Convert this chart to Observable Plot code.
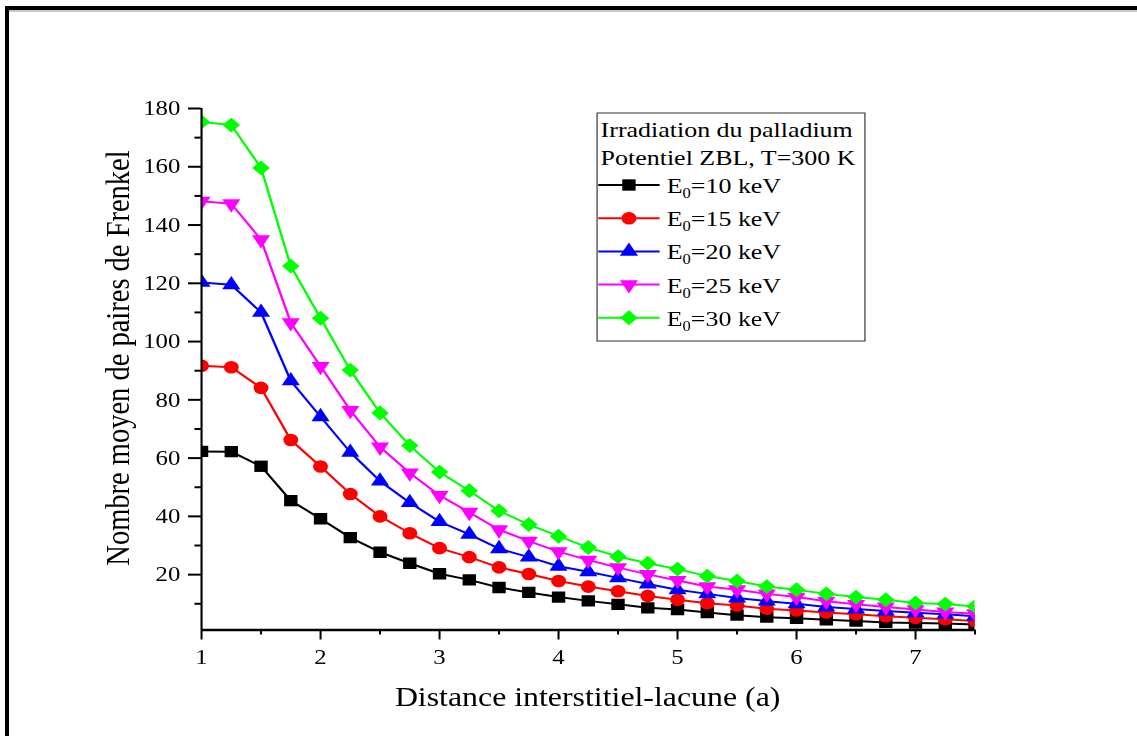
<!DOCTYPE html>
<html>
<head>
<meta charset="utf-8">
<script src="https://cdn.jsdelivr.net/npm/d3@7"></script>
<script src="https://cdn.jsdelivr.net/npm/@observablehq/plot@0.6"></script>
<style>
  html, body { margin: 0; padding: 0; background: #fff; overflow: hidden; }
  #page { position: relative; width: 1137px; height: 736px; overflow: hidden; background: #fff; }
  #stretch { position: absolute; left: 0; top: 0; width: 964px; height: 736px; transform: scaleX(1.18); transform-origin: 0 0; }
  #chart { position: absolute; left: 0; top: 0; }
  #overlay { position: absolute; left: 0; top: 0; overflow: visible; pointer-events: none; }
  #frame { position: absolute; left: 5px; top: 6px; right: -30px; bottom: -30px; border-left: 4px solid #000; border-top: 4px solid #000; }
  #frameShadow { position: absolute; left: 9px; top: 10px; right: 0; height: 1.5px; background: #c8c8c8; }
</style>
</head>
<body>
<div id="page">
  <div id="stretch">
    <div id="chart"></div>
    <svg id="overlay"></svg>
  </div>
  <div id="frame"></div>
  <div id="frameShadow"></div>
</div>
<script>
// ---------- data ----------
const xValues = [1, 1.25, 1.5, 1.75, 2, 2.25, 2.5, 2.75, 3, 3.25, 3.5, 3.75, 4, 4.25, 4.5, 4.75, 5, 5.25, 5.5, 5.75, 6, 6.25, 6.5, 6.75, 7, 7.25, 7.5];
const e10 = [62.3, 62.2, 57.2, 45.4, 39.2, 32.7, 27.7, 23.9, 20.3, 18.2, 15.6, 13.9, 12.3, 11.0, 9.8, 8.6, 8.0, 7.0, 6.1, 5.4, 5.0, 4.5, 4.1, 3.6, 3.4, 3.2, 2.9];
const e15 = [91.7, 91.2, 84.1, 66.2, 57.1, 47.7, 40.0, 34.2, 29.1, 26.0, 22.5, 20.2, 17.8, 15.9, 14.3, 12.7, 11.4, 10.2, 9.4, 8.3, 7.7, 7.0, 6.4, 5.7, 5.2, 4.7, 4.1];
const e20 = [120.3, 119.5, 110.0, 86.5, 74.2, 62.0, 52.1, 44.7, 38.2, 33.8, 28.9, 26.0, 22.9, 21.0, 18.9, 16.8, 14.8, 13.4, 12.0, 10.9, 10.0, 8.9, 8.2, 7.5, 6.9, 6.4, 5.7];
const e25 = [148.2, 147.3, 135.0, 106.5, 91.5, 76.4, 63.8, 54.9, 47.2, 41.4, 35.4, 31.5, 27.9, 25.0, 22.4, 20.1, 18.0, 15.9, 14.8, 13.4, 12.3, 10.9, 9.8, 8.9, 8.0, 7.2, 6.6];
const e30 = [175.4, 174.3, 159.6, 125.9, 108.0, 90.2, 75.5, 64.3, 55.2, 48.8, 41.9, 37.2, 33.2, 29.3, 26.2, 23.9, 21.9, 19.5, 17.8, 15.9, 14.8, 13.4, 12.3, 11.4, 10.3, 9.9, 9.1];
const seriesValues = [e10, e15, e20, e25, e30];
const seriesEnergies = ["10", "15", "20", "25", "30"];
const seriesColors = ["#000000", "#ff0000", "#0000ff", "#ff00ff", "#00ff00"];
const xTicks = [1, 2, 3, 4, 5, 6, 7];
const xMinorTicks = [1.5, 2.5, 3.5, 4.5, 5.5, 6.5, 7.5];
const yTicks = [20, 40, 60, 80, 100, 120, 140, 160, 180];
const yMinorTicks = [10, 30, 50, 70, 90, 110, 130, 150, 170];
const xDomain = [1, 7.5];
const yDomain = [1, 180];
const legendTitle = ["Irradiation du palladium", "Potentiel ZBL, T=300 K"];
const xLabel = "Distance interstitiel-lacune (a)";
const yLabel = "Nombre moyen de paires de Frenkel";

// ---------- symbols ----------
const triangleDown = {
  draw(ctx, size) {
    const y = Math.sqrt(size / (Math.sqrt(3) * 3));
    ctx.moveTo(0, 2 * y);
    ctx.lineTo(-Math.sqrt(3) * y, -y);
    ctx.lineTo(Math.sqrt(3) * y, -y);
    ctx.closePath();
  }
};
const plotSymbols = ["square", "circle", "triangle", triangleDown, "diamond2"];
const d3Symbols = [d3.symbolSquare, d3.symbolCircle, d3.symbolTriangle, triangleDown, d3.symbolDiamond2];
const symbolR = [6.4, 6.3, 5.7, 5.7, 6.7];

const serif = "'Liberation Serif', 'Times New Roman', Times, serif";
const W = 964, H = 736;

// ---------- chart ----------
const seriesMarks = [];
seriesValues.forEach((vals, i) => {
  const rows = xValues.map((x, j) => ({x, y: vals[j]}));
  seriesMarks.push(Plot.line(rows, {x: "x", y: "y", stroke: seriesColors[i], strokeWidth: 2, clip: true}));
  seriesMarks.push(Plot.dot(rows, {x: "x", y: "y", symbol: plotSymbols[i], r: symbolR[i], fill: seriesColors[i], stroke: "none", clip: true}));
});

const chart = Plot.plot({
  width: W,
  height: H,
  marginLeft: 170.3,
  marginRight: 138.2,
  marginTop: 108,
  marginBottom: 106.5,
  style: {fontFamily: serif, fontSize: "21px", color: "#000", background: "transparent", overflow: "visible"},
  x: {domain: xDomain, label: null},
  y: {domain: yDomain, label: null},
  marks: [
    ...seriesMarks,
    Plot.axisY(yTicks, {tickSize: 11, tickPadding: 7, fontSize: 21, strokeWidth: 2, label: null, tickFormat: d => String(d)}),
    Plot.axisY(yMinorTicks, {tickSize: 5.5, strokeWidth: 2, label: null, tickFormat: () => ""}),
    Plot.axisX(xTicks, {tickSize: 10, tickPadding: 9, fontSize: 21, strokeWidth: 1.7, label: null, tickFormat: d => String(d)}),
    Plot.axisX(xMinorTicks, {tickSize: 5, strokeWidth: 1.7, label: null, tickFormat: () => ""}),
    Plot.ruleX([xDomain[0]], {strokeWidth: 1.8}),
    Plot.ruleY([yDomain[0]], {strokeWidth: 2.5})
  ]
});
document.getElementById("chart").appendChild(chart);

// ---------- overlay: axis titles and legend ----------
const ov = d3.select("#overlay").attr("width", W).attr("height", H)
  .style("font-family", serif);

ov.append("text")
  .attr("x", 498).attr("y", 706)
  .attr("text-anchor", "middle")
  .attr("font-size", 27)
  .attr("fill", "#000")
  .text(xLabel);

ov.append("text")
  .attr("transform", "translate(109,358) rotate(-90)")
  .attr("text-anchor", "middle")
  .attr("font-size", 28.5)
  .attr("fill", "#000")
  .text(yLabel);

const lg = ov.append("g");
lg.append("rect")
  .attr("x", 506).attr("y", 113)
  .attr("width", 227).attr("height", 228)
  .attr("fill", "#fff").attr("stroke", "#333").attr("stroke-width", 1);

legendTitle.forEach((t, i) => {
  lg.append("text")
    .attr("x", 509).attr("y", 137 + i * 28)
    .attr("font-size", 22)
    .attr("fill", "#000")
    .text(t);
});

seriesEnergies.forEach((e, i) => {
  const cy = 185 + i * 33.2;
  lg.append("line")
    .attr("x1", 507).attr("x2", 559)
    .attr("y1", cy).attr("y2", cy)
    .attr("stroke", seriesColors[i]).attr("stroke-width", 2);
  lg.append("path")
    .attr("transform", `translate(533,${cy})`)
    .attr("d", d3.symbol(d3Symbols[i], Math.PI * symbolR[i] * symbolR[i])())
    .attr("fill", seriesColors[i]);
  const t = lg.append("text")
    .attr("x", 565).attr("y", cy + 8)
    .attr("font-size", 22)
    .attr("fill", "#000");
  t.append("tspan").text("E");
  t.append("tspan").attr("font-size", 14).attr("dy", 5).text("0");
  t.append("tspan").attr("dy", -5).text("=" + e + " keV");
});
</script>
</body>
</html>
